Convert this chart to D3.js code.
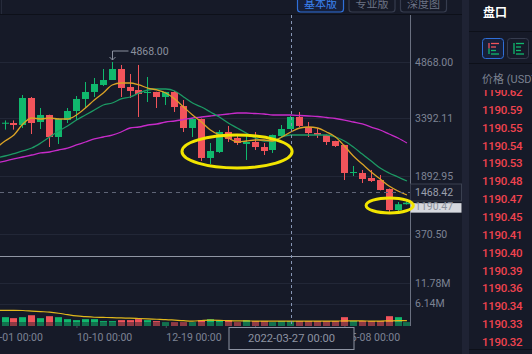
<!DOCTYPE html>
<html><head><meta charset="utf-8">
<script src="https://cdn.jsdelivr.net/npm/d3@7"></script>
<style>
html,body{margin:0;padding:0;background:#161a28;overflow:hidden}
svg{display:block;font-family:Roboto,"Noto Sans CJK SC",sans-serif}
</style></head><body>
<svg id="c" width="532" height="354"></svg>
<script>
// ---------- data ----------
const dates = ["2021-08-08","2021-08-15","2021-08-22","2021-08-29","2021-09-05","2021-09-12","2021-09-19","2021-09-26","2021-10-03","2021-10-10",
"2021-10-17","2021-10-24","2021-10-31","2021-11-07","2021-11-14","2021-11-21","2021-11-28","2021-12-05","2021-12-12","2021-12-19",
"2021-12-26","2022-01-02","2022-01-09","2022-01-16","2022-01-23","2022-01-30","2022-02-06","2022-02-13","2022-02-20","2022-02-27",
"2022-03-06","2022-03-13","2022-03-20","2022-03-27","2022-04-03","2022-04-10","2022-04-17","2022-04-24","2022-05-01","2022-05-08",
"2022-05-15","2022-05-22","2022-05-29","2022-06-05","2022-06-12","2022-06-19","2022-06-26"];
// candles start at dates[1]
const opens  = [3260,3273,3221,3927,3299,3482,2907,3351,3587,3901,4084,4267,4397,4685,4214,4136,4057,4084,3953,4084,3717,3142,3378,2358,2515,3038,2881,2724,2776,2645,2567,2933,3116,3430,3168,3011,2959,2802,2698,1966,1966,1835,1782,1547,998,1150];
const highs  = [3340,3340,4005,3953,3665,3490,3404,3665,3979,4345,4450,4685,4868,4790,4554,4790,4476,4090,4090,4110,3874,3404,3390,2750,3090,3195,2959,2959,3038,2750,2970,3221,3456,3561,3299,3142,2970,2810,2705,2149,2044,2044,1913,1560,1207,1230];
const lows   = [3100,3100,3142,2985,3116,2645,2724,3273,3351,3665,3953,4240,4397,3953,3927,3430,3822,3665,3744,3561,3038,2907,2279,2201,2489,2776,2698,2306,2567,2436,2489,2881,3110,3168,2907,2881,2698,2645,1782,1887,1704,1730,1510,946,894,1140];
const closes = [3280,3221,3927,3273,3482,2907,3378,3587,3901,4084,4293,4397,4685,4188,4110,4031,4084,3953,4084,3691,3142,3378,2358,2541,3038,2855,2750,2776,2645,2541,2959,3116,3430,3195,3011,2959,2776,2672,1966,1992,1809,1756,1521,998,1150,1190.47];
const volumes = [2.42,2.15,2.42,2.95,2.15,2.69,2.42,1.88,1.61,1.88,1.88,1.34,1.34,1.61,1.61,1.88,1.61,1.34,1.07,1.07,1.07,1.07,1.61,1.88,1.61,1.61,1.07,1.61,1.34,1.34,1.07,1.34,1.34,1.34,1.34,1.34,1.34,1.34,2.42,1.34,1.34,1.34,1.34,2.69,2.42,1.07];
// moving averages start at dates[0]
const ma5  = [2619,2802,2959,3247,3404,3378,3404,3378,3378,3482,3665,3874,4057,4267,4319,4319,4267,4188,4136,4057,3901,3691,3482,3299,3090,2959,2881,2776,2802,2828,2828,2802,2907,3038,3142,3168,3142,3038,2907,2672,2410,2201,1992,1809,1626,1495,1390];
const ma10 = [2358,2410,2475,2541,2619,2750,2907,3064,3195,3351,3482,3613,3744,3796,3901,3953,4057,4136,4162,4162,4110,3953,3796,3691,3561,3430,3273,3142,3011,2881,2802,2802,2907,2959,2959,2959,2959,2959,2907,2802,2645,2462,2279,2096,1966,1861,1756];
const ma30 = [2227,2279,2332,2384,2436,2489,2515,2567,2619,2698,2776,2855,2907,2959,3038,3142,3168,3221,3247,3299,3325,3364,3404,3430,3456,3482,3508,3534,3534,3521,3508,3482,3482,3482,3469,3456,3443,3417,3391,3351,3299,3247,3168,3090,2985,2881,2750];
const volMa = [4.3,4.3,4.3,4.25,4.1,3.95,3.8,3.5,3.1,2.75,2.55,2.4,2.35,2.3,2.2,2.15,2.05,1.95,1.85,1.75,1.6,1.45,1.35,1.5,1.6,1.55,1.45,1.4,1.4,1.35,1.35,1.35,1.35,1.35,1.35,1.35,1.35,1.35,1.35,1.4,1.4,1.4,1.35,1.35,1.4,1.45,1.45];
const priceTicks = [4868.00, 3392.11, 1892.95, 370.50];
const volTicks = [11.78, 6.14];
const dateTicks = ["2021-08-01","2021-10-10","2021-12-19","2022-02-27","2022-05-08"];
const crossDate = "2022-03-27", crossPrice = 1468.42, lastPrice = 1190.47;
const tabs = ["基本版","专业版","深度图"];
const bookPrices = ["1190.62","1190.59","1190.55","1190.54","1190.53","1190.48","1190.47","1190.45","1190.41","1190.40","1190.39","1190.36","1190.34","1190.33","1190.32"];
const annotations = [
  {from:"2021-12-31T17:00", to:"2022-03-28T00:00", hi:2959, lo:2096},
  {from:"2022-05-25T00:00", to:"2022-07-01T00:00", hi:1312, lo:920}
];

// ---------- setup ----------
const W = 532, H = 354;
const BG = "#161a28", UP = "#10b86d", DOWN = "#f2545b", AX = "#7d8394";
const parse = d3.utcParse("%Y-%m-%d");
const parseT = d3.utcParse("%Y-%m-%dT%H:%M");
const svg = d3.select("#c");
const defs = svg.append("defs");
defs.append("clipPath").attr("id","cp").append("rect").attr("x",0).attr("y",15).attr("width",410).attr("height",241);
defs.append("clipPath").attr("id","cv").append("rect").attr("x",0).attr("y",257).attr("width",410).attr("height",69);
defs.append("clipPath").attr("id","cb").append("rect").attr("x",470).attr("y",90).attr("width",62).attr("height",258);

const x = d3.scaleUtc().domain([parse("2021-08-15"), parse("2022-06-19")]).range([5, 398]);
const y = d3.scaleLinear().domain([370.5, 4868]).range([234, 62]);
const yv = d3.scaleLinear().domain([0, 11.78]).range([326, 283]);

svg.append("rect").attr("width",W).attr("height",H).attr("fill",BG);
svg.append("rect").attr("x",462).attr("y",0).attr("width",7).attr("height",H).attr("fill","#1f2334");

// top bar
svg.append("line").attr("x1",0).attr("x2",462).attr("y1",14.5).attr("y2",14.5).attr("stroke","#0d1019");
svg.append("line").attr("x1",1.5).attr("x2",1.5).attr("y1",0).attr("y2",14).attr("stroke","#262b3b");
const tb = d3.scaleBand().domain(tabs).range([297,447]).paddingInner(0.087);
const tg = svg.append("g");
tabs.forEach((t,i)=>{
  tg.append("rect").attr("x",tb(t)+0.5).attr("y",-6).attr("width",tb.bandwidth()-1).attr("height",18).attr("rx",3)
    .attr("fill", i===0 ? "#17203a" : "none").attr("stroke", i===0 ? "#2f6fd8" : "#363c4e").attr("stroke-width",1.2);
  tg.append("text").attr("x",tb(t)+tb.bandwidth()/2).attr("y",4).attr("dy","0.35em").attr("text-anchor","middle")
    .attr("font-size",11).attr("fill", i===0 ? "#3b82f0" : "#6d7385").text(t);
});

// gridlines
svg.append("g").selectAll("line").data(priceTicks).join("line")
  .attr("x1",0).attr("x2",410).attr("y1",d=>Math.round(y(d))+0.5).attr("y2",d=>Math.round(y(d))+0.5).attr("stroke","#222737");
svg.append("g").selectAll("line").data(volTicks).join("line")
  .attr("x1",0).attr("x2",410).attr("y1",d=>Math.round(yv(d))+0.5).attr("y2",d=>Math.round(yv(d))+0.5).attr("stroke","#222737");

// candles
const candles = d3.range(opens.length).map(i=>({date:parse(dates[i+1]), o:opens[i], h:highs[i], l:lows[i], c:closes[i], v:volumes[i]}));
const cg = svg.append("g").attr("clip-path","url(#cp)");
candles.forEach(d=>{
  const col = d.c >= d.o ? UP : DOWN;
  const bx = Math.round(x(d.date) - 3.5);
  cg.append("line").attr("x1",bx+3.5).attr("x2",bx+3.5).attr("y1",y(d.h)).attr("y2",y(d.l)).attr("stroke",col).attr("stroke-width",1);
  const t = Math.min(y(d.o), y(d.c)), b = Math.max(y(d.o), y(d.c));
  cg.append("rect").attr("x",bx).attr("y",t).attr("width",7).attr("height",Math.max(1,b-t)).attr("fill",col);
});

// MA lines
const maLine = arr => d3.line().x((d,i)=>x(parse(dates[i]))).y(d=>y(d)).curve(d3.curveMonotoneX)(arr);
[[ma30,"#c72bc9"],[ma10,"#1c9a64"],[ma5,"#dba326"]].forEach(([a,c])=>{
  cg.append("path").attr("d",maLine(a)).attr("fill","none").attr("stroke",c).attr("stroke-width",1.3);
});

// max marker
const mi = d3.maxIndex(highs);
const mx = Math.round(x(candles[mi].date))+0.5, my = y(highs[mi]);
svg.append("path").attr("d",`M${mx},${my-2}L${mx},${my-11}L${mx+16},${my-11}`).attr("fill","none").attr("stroke","#8a909e");
svg.append("path").attr("d",`M${mx-3},${my-5}L${mx},${my-2}L${mx+3},${my-5}`).attr("fill","none").attr("stroke","#8a909e");
svg.append("text").attr("x",mx+18).attr("y",my-11).attr("dy","0.35em").attr("font-size",10.5).attr("fill","#8a909e").text(d3.format(".2f")(highs[mi]));

// volume
const vg = svg.append("g").attr("clip-path","url(#cv)");
candles.forEach(d=>{
  const bx = Math.round(x(d.date) - 3.5);
  vg.append("rect").attr("x",bx).attr("y",yv(d.v)).attr("width",7).attr("height",yv(0)-yv(d.v)).attr("fill", d.c>=d.o?UP:DOWN);
});
vg.append("rect").attr("x",0).attr("y",322).attr("width",410).attr("height",4).attr("fill",BG).attr("opacity",0.45);
vg.append("path").attr("d",d3.line().x((d,i)=>x(parse(dates[i]))).y(d=>yv(d)).curve(d3.curveMonotoneX)(volMa))
  .attr("fill","none").attr("stroke","#e0b81c").attr("stroke-width",1.2);

// separators / axis lines
svg.append("line").attr("x1",0).attr("x2",410).attr("y1",256.5).attr("y2",256.5).attr("stroke","#9096a4");
svg.append("line").attr("x1",410.5).attr("x2",410.5).attr("y1",15).attr("y2",326).attr("stroke","#6a7080");

// price axis
const pa = svg.append("g").attr("transform","translate(410,0)")
  .call(d3.axisRight(y).tickValues(priceTicks).tickFormat(d3.format(".2f")).tickSize(0).tickPadding(5));
pa.select(".domain").remove();
pa.selectAll("text").attr("fill",AX).attr("font-size",10.5).attr("font-family","Roboto");
const va = svg.append("g").attr("transform","translate(410,0)")
  .call(d3.axisRight(yv).tickValues(volTicks).tickFormat(d=>d3.format(".2f")(d)+"M").tickSize(0).tickPadding(5));
va.select(".domain").remove();
va.selectAll("text").attr("fill",AX).attr("font-size",10.5).attr("font-family","Roboto");

// time axis
const cx = Math.round(x(parse(crossDate)))+0.5, cy = Math.round(y(crossPrice))+0.5;
const boxL = cx-62.5, boxR = cx+62.5;
const xa = svg.append("g").attr("transform","translate(0,326)")
  .call(d3.axisBottom(x).tickValues(dateTicks.map(parse)).tickFormat(d3.utcFormat("%m-%d %H:%M")).tickSize(2).tickPadding(6));
xa.select(".domain").remove();
xa.selectAll("line").attr("stroke","#4a5060");
xa.selectAll("text").attr("text-anchor","start").attr("fill",AX).attr("font-size",10.5).attr("font-family","Roboto");
// a label fully hidden behind the crosshair date box is not drawn
xa.selectAll(".tick").filter(d=>x(d) > boxL && x(d)+56 < boxR).select("text").remove();

// crosshair
svg.append("line").attr("x1",cx).attr("x2",cx).attr("y1",15).attr("y2",326).attr("stroke","#8796b5").attr("stroke-dasharray","3,3");
svg.append("line").attr("x1",0).attr("x2",410).attr("y1",cy).attr("y2",cy).attr("stroke","#5f6577").attr("stroke-dasharray","4,4");
svg.append("rect").attr("x",boxL).attr("y",327.5).attr("width",125).attr("height",22).attr("fill",BG).attr("stroke","#8d93a2");
svg.append("text").attr("x",cx).attr("y",338.5).attr("dy","0.35em").attr("text-anchor","middle").attr("font-size",11.2).attr("fill","#8d93a2")
  .text(d3.utcFormat("%Y-%m-%d %H:%M")(parse(crossDate)));
svg.append("rect").attr("x",410.5).attr("y",cy-8.5).attr("width",51).attr("height",17).attr("fill","#1a1e2d").attr("stroke","#3a4050");
svg.append("text").attr("x",415).attr("y",cy).attr("dy","0.35em").attr("font-size",10.5).attr("fill","#9aa0ad").text(d3.format(".2f")(crossPrice));

// last price label
const ly = y(lastPrice);
svg.append("rect").attr("x",410.5).attr("y",ly+0.5).attr("width",51).attr("height",9.5).attr("fill","#d6d8de");
svg.append("text").attr("x",415).attr("y",ly+4).attr("dy","0.35em").attr("font-size",10.5).attr("fill","#8a909c").text(d3.format(".2f")(lastPrice));

// annotations
const ag = svg.append("g");
annotations.forEach(a=>{
  const x0 = x(parseT(a.from)), x1 = x(parseT(a.to)), y0 = y(a.hi), y1 = y(a.lo);
  ag.append("ellipse").attr("cx",(x0+x1)/2).attr("cy",(y0+y1)/2).attr("rx",(x1-x0)/2).attr("ry",(y1-y0)/2)
    .attr("fill","none").attr("stroke","#f2e500").attr("stroke-width",3);
});

// right panel
svg.append("text").attr("x",483).attr("y",13).attr("dy","0.35em").attr("font-size",12).attr("font-weight",700).attr("fill","#ffffff").text("盘口");
svg.append("line").attr("x1",469).attr("x2",532).attr("y1",31.5).attr("y2",31.5).attr("stroke","#0d1019");
svg.append("line").attr("x1",469).attr("x2",532).attr("y1",63.5).attr("y2",63.5).attr("stroke","#0d1019");
svg.append("rect").attr("x",482.5).attr("y",38.5).attr("width",21).attr("height",20).attr("rx",3).attr("fill","#17203a").attr("stroke","#2f6fd8");
svg.append("rect").attr("x",507.5).attr("y",38.5).attr("width",21).attr("height",20).attr("rx",3).attr("fill","none").attr("stroke","#363c4e");
const ic = svg.append("g").attr("stroke-width",1.3);
ic.append("line").attr("x1",489).attr("x2",489).attr("y1",43).attr("y2",48.5).attr("stroke",DOWN);
ic.append("line").attr("x1",489).attr("x2",489).attr("y1",48.5).attr("y2",54).attr("stroke",UP);
[[43.5,499,DOWN],[47,496,DOWN],[50.5,496,UP],[54,499,UP]].forEach(([yy,x2,c])=>ic.append("line").attr("x1",491).attr("x2",x2).attr("y1",yy).attr("y2",yy).attr("stroke",c));
ic.append("line").attr("x1",514).attr("x2",514).attr("y1",43).attr("y2",54).attr("stroke",UP);
[[43.5,524],[47,521],[50.5,521],[54,524]].forEach(([yy,x2])=>ic.append("line").attr("x1",516).attr("x2",x2).attr("y1",yy).attr("y2",yy).attr("stroke",UP));
svg.append("text").attr("x",482).attr("y",79).attr("dy","0.35em").attr("font-size",11).attr("fill","#7b8190").text("价格 (USDT)");
const bp = d3.scalePoint().domain(bookPrices).range([92, 342]);
svg.append("g").attr("clip-path","url(#cb)").selectAll("text").data(bookPrices).join("text")
  .attr("x",482).attr("y",d=>bp(d)).attr("dy","0.35em").attr("font-size",11.5).attr("font-weight",500).attr("letter-spacing",-0.3)
  .attr("fill","#f0434f").text(d=>d);
svg.append("line").attr("x1",469).attr("x2",532).attr("y1",349.5).attr("y2",349.5).attr("stroke","#0d1019");
</script>
</body></html>
